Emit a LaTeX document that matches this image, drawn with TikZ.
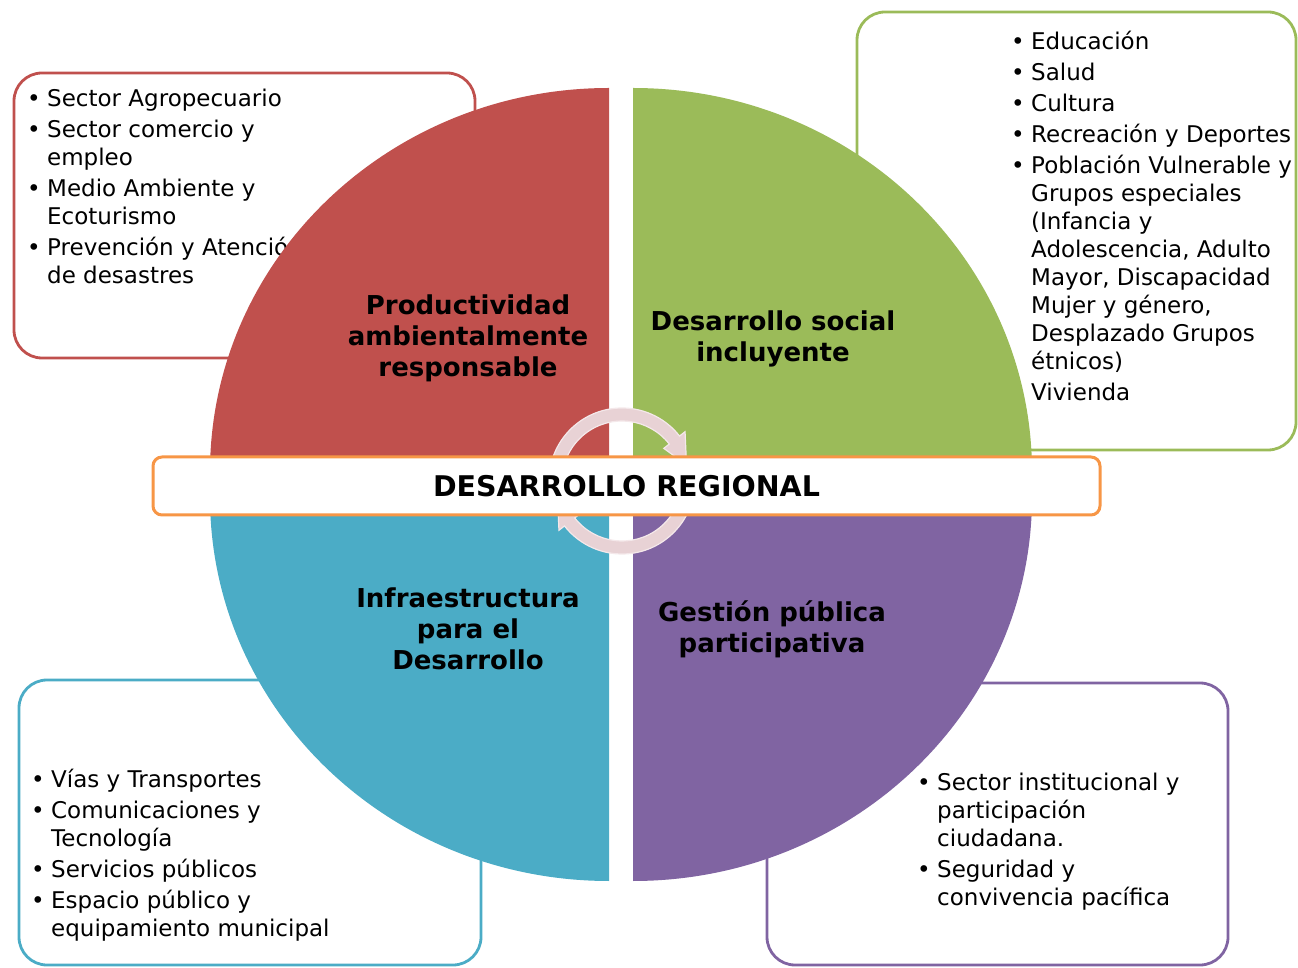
\documentclass[tikz,border=0pt]{standalone}
\usepackage{fontspec}
\setmainfont{DejaVu Sans}
\usetikzlibrary{calc}
\definecolor{qred}{HTML}{C0504D}
\definecolor{qgreen}{HTML}{9BBB59}
\definecolor{qcyan}{HTML}{4BACC6}
\definecolor{qpurple}{HTML}{8064A2}
\definecolor{qorange}{HTML}{F79646}
\definecolor{cpink}{HTML}{E8D2D5}
\definecolor{cpinkline}{HTML}{F4E8EA}
\newcommand{\bul}{\makebox[20pt][l]{•}}
\newcommand{\ind}{\hspace*{20pt}}
\begin{document}
\begin{tikzpicture}[x=1pt,y=1pt,
  infobox/.style={line width=2.8pt, rounded corners=28pt, fill=white, inner sep=0pt},
  itemlist/.style={align=left, anchor=north west, inner sep=0pt, font=\fontsize{23}{28}\selectfont},
  quadlabel/.style={align=center, inner sep=0pt, font=\bfseries\fontsize{26}{31}\selectfont},
  cyclearrow/.style={fill=cpink, draw=cpinkline, line width=1.2pt},
  titlebar/.style={draw=qorange, line width=3pt, fill=white, rounded corners=9pt,
    minimum width=947pt, minimum height=58pt, inner sep=0pt,
    font=\bfseries\fontsize{28.5}{34}\selectfont}
]
\useasboundingbox (0,0) rectangle (1298,967);
% outer boxes
\node[infobox, draw=qred, minimum width=461pt, minimum height=285pt] (redbox) at (244.5,751.5) {};
\node[infobox, draw=qgreen, minimum width=439pt, minimum height=438pt] (greenbox) at (1076.5,736) {};
\node[infobox, draw=qcyan, minimum width=462pt, minimum height=285pt] (cyanbox) at (250,144.5) {};
\node[infobox, draw=qpurple, minimum width=461pt, minimum height=282pt] (purplebox) at (997.5,143) {};
% lists
\node[itemlist] (redlist) at (27,880.6) {\strut\bul Sector Agropecuario\\[3pt]
\bul Sector comercio y\\
\ind empleo\\[3pt]
\bul Medio Ambiente y\\
\ind Ecoturismo\\[3pt]
\bul Prevención y Atención\\
\ind de desastres};
\node[itemlist] (greenlist) at (1011,937.6) {\strut\bul Educación\\[3pt]
\bul Salud\\[3pt]
\bul Cultura\\[3pt]
\bul Recreación y Deportes\\[3pt]
\bul Población Vulnerable y\\
\ind Grupos especiales\\
\ind (Infancia y\\
\ind Adolescencia, Adulto\\
\ind Mayor, Discapacidad\\
\ind Mujer y género,\\
\ind Desplazado Grupos\\
\ind étnicos)\\[3pt]
\ind Vivienda};
\node[itemlist] (cyanlist) at (31,199.6) {\strut\bul Vías y Transportes\\[3pt]
\bul Comunicaciones y\\
\ind Tecnología\\[3pt]
\bul Servicios públicos\\[3pt]
\bul Espacio público y\\
\ind equipamiento municipal};
\node[itemlist] (purplelist) at (917,196.6) {\strut\bul Sector institucional y\\
\ind participación\\
\ind ciudadana.\\[3pt]
\bul Seguridad y\\
\ind convivencia pacífica};
% quadrants
\fill[qred] (609,495) -- ++(0,384) arc[start angle=90, end angle=180, x radius=399, y radius=384] -- cycle;
\fill[qgreen] (633,495) -- ++(399,0) arc[start angle=0, end angle=90, x radius=399, y radius=384] -- cycle;
\fill[qcyan] (609,470) -- ++(-399,0) arc[start angle=180, end angle=270, x radius=399, y radius=384] -- cycle;
\fill[qpurple] (633,470) -- ++(0,-384) arc[start angle=270, end angle=360, x radius=399, y radius=384] -- cycle;
% quadrant labels
\node[quadlabel] (qlred) at (468,629) {Productividad\\ambientalmente\\responsable};
\node[quadlabel] (qlgreen) at (773,628.5) {Desarrollo social\\incluyente};
\node[quadlabel] (qlcyan) at (468,338.5) {Infraestructura\\para el\\Desarrollo};
\node[quadlabel] (qlpurple) at (772,337.5) {Gestión pública\\participativa};
% circular arrows
\coordinate (ac) at (622,486);
\draw[cyclearrow] ($(ac)+(178:73)$) arc[start angle=178, end angle=38, radius=73]
  -- ($(ac)+(38:80)$) -- ($(ac)+(14:66.5)$) -- ($(ac)+(38:53)$) -- ($(ac)+(38:60)$)
  arc[start angle=38, end angle=178, radius=60] -- cycle;
\draw[cyclearrow] ($(ac)+(-2:73)$) arc[start angle=-2, end angle=-142, radius=73]
  -- ($(ac)+(-142:80)$) -- ($(ac)+(-166:66.5)$) -- ($(ac)+(-142:53)$) -- ($(ac)+(-142:60)$)
  arc[start angle=-142, end angle=-2, radius=60] -- cycle;
% title bar
\node[titlebar] (bar) at (626.5,481) {DESARROLLO REGIONAL};
\end{tikzpicture}
\end{document}
